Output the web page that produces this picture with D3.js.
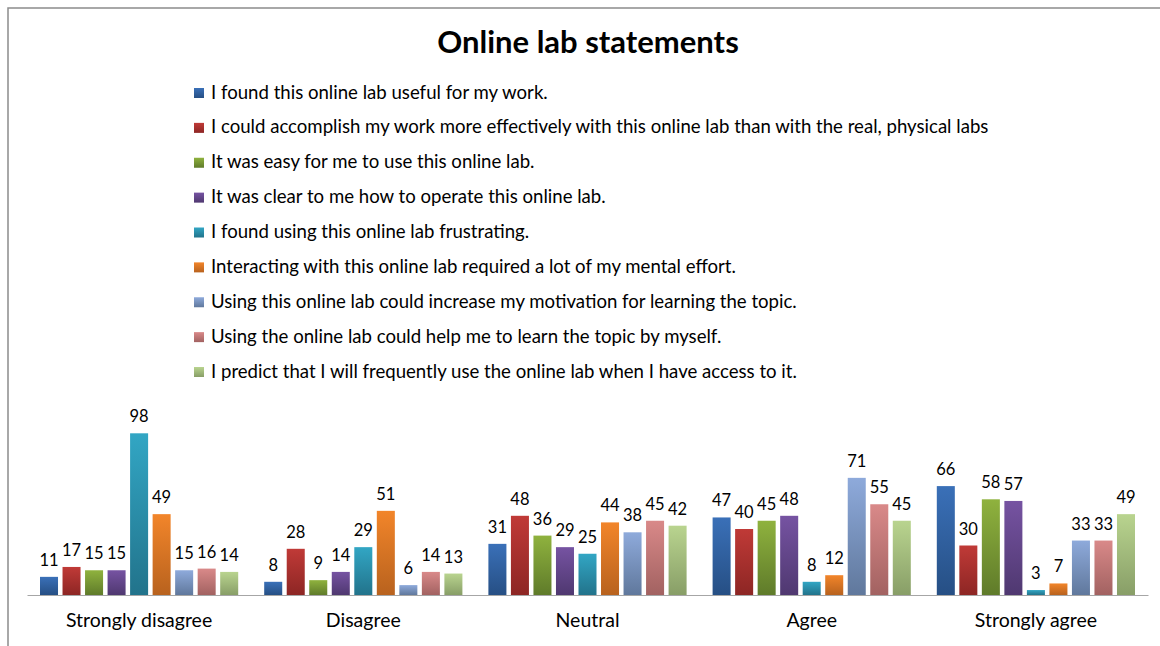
<!DOCTYPE html>
<html>
<head>
<meta charset="utf-8">
<script src="https://cdn.jsdelivr.net/npm/d3@7"></script>
<style>
  body { margin: 0; background: #fff; }
  svg { display: block; font-family: Lato, Calibri, sans-serif; }
</style>
</head>
<body>
<div id="chart"></div>
<script>
const categories = ['Strongly disagree', 'Disagree', 'Neutral', 'Agree', 'Strongly agree'];

const seriesNames = [
  'I found this online lab useful for my work.',
  'I could accomplish my work more effectively with this online lab than with the real, physical labs',
  'It was easy for me to use this online lab.',
  'It was clear to me how to operate this online lab.',
  'I found using this online lab frustrating.',
  'Interacting with this online lab required a lot of my mental effort.',
  'Using this online lab could increase my motivation for learning the topic.',
  'Using the online lab could help me to learn the topic by myself.',
  'I predict that I will frequently use the online lab when I have access to it.'
];

// one array per statement, in category order
const useful      = [11, 8, 31, 47, 66];
const effective   = [17, 28, 48, 40, 30];
const easy        = [15, 9, 36, 45, 58];
const clear       = [15, 14, 29, 48, 57];
const frustrating = [98, 29, 25, 8, 3];
const effort      = [49, 51, 44, 12, 7];
const motivation  = [15, 6, 38, 71, 33];
const byMyself    = [16, 14, 45, 55, 33];
const predictUse  = [14, 13, 42, 45, 49];

const seriesValues = [useful, effective, easy, clear, frustrating, effort, motivation, byMyself, predictUse];

// gradient top / bottom per series
const colorsTop    = ['#3a70b8', '#c03a37', '#8fb23e', '#7653a2', '#32a6c4', '#f2852a', '#8eaadb', '#d98989', '#b9d48f'];
const colorsBottom = ['#264f84', '#8d2624', '#5f7b2a', '#4f3870', '#22738b', '#b8621e', '#60789c', '#a26261', '#889e67'];

const width = 1160, height = 646;
const margin = {left: 27, right: 12, top: 397, bottom: 51};

const svg = d3.select('#chart').append('svg')
  .attr('width', width)
  .attr('height', height);

const defs = svg.append('defs');
colorsTop.forEach((c, i) => {
  let g = defs.append('linearGradient')
    .attr('id', 'grad' + i)
    .attr('x1', 0).attr('y1', 0).attr('x2', 0).attr('y2', 1);
  g.append('stop').attr('offset', '0%').attr('stop-color', c);
  g.append('stop').attr('offset', '100%').attr('stop-color', colorsBottom[i]);
});

// frame (right and bottom edges fall outside the picture)
svg.append('rect')
  .attr('x', 8).attr('y', 8)
  .attr('width', 1200).attr('height', 700)
  .attr('fill', 'none')
  .attr('stroke', '#8c8c8c')
  .attr('stroke-width', 1.5);

svg.append('text')
  .attr('x', 588).attr('y', 53)
  .attr('text-anchor', 'middle')
  .attr('font-size', 31)
  .attr('font-weight', 'bold')
  .attr('fill', '#000')
  .text('Online lab statements');

// legend
const legendY = d3.scalePoint()
  .domain(d3.range(seriesNames.length))
  .range([92, 371]);

let legend = svg.append('g')
  .selectAll('g')
  .data(seriesNames)
  .enter()
    .append('g')
    .attr('transform', (d, i) => `translate(194, ${legendY(i)})`);

legend.append('rect')
  .attr('x', 0).attr('y', -4)
  .attr('width', 10).attr('height', 10)
  .attr('fill', (d, i) => `url(#grad${i})`);

legend.append('text')
  .attr('x', 17).attr('y', 0)
  .attr('dy', '0.35em')
  .attr('font-size', 18.6)
  .attr('fill', '#000')
  .text(d => d);

// scales
const x0 = d3.scaleBand()
  .domain(categories)
  .range([margin.left, width - margin.right]);

const x1 = d3.scaleBand()
  .domain(d3.range(seriesNames.length))
  .range([13, x0.bandwidth() - 13])
  .paddingInner(0.2);

const y = d3.scaleLinear()
  .domain([0, 120])
  .range([height - margin.bottom, margin.top]);

const groups = svg.append('g')
  .selectAll('g')
  .data(categories)
  .enter()
    .append('g')
    .attr('transform', d => `translate(${x0(d)}, 0)`);

const cells = groups.selectAll('g')
  .data((d, ci) => seriesValues.map((vals, si) => ({si: si, v: vals[ci]})))
  .enter()
    .append('g');

cells.append('rect')
  .attr('x', d => x1(d.si))
  .attr('y', d => y(d.v))
  .attr('width', x1.bandwidth())
  .attr('height', d => y(0) - y(d.v))
  .attr('fill', d => `url(#grad${d.si})`);

cells.append('text')
  .attr('x', d => x1(d.si) + x1.bandwidth() / 2)
  .attr('y', d => y(d.v) - 11)
  .attr('text-anchor', 'middle')
  .attr('font-size', 16.5)
  .attr('fill', '#000')
  .text(d => d.v);

// category axis
let xAxis = d3.axisBottom(x0).tickSize(0).tickPadding(18);

let axisG = svg.append('g')
  .attr('transform', `translate(0, ${y(0)})`)
  .call(xAxis);

axisG.select('.domain').attr('stroke', '#a6a6a6');
axisG.selectAll('text')
  .attr('font-size', 19.5)
  .attr('font-family', 'Lato, Calibri, sans-serif')
  .attr('fill', '#000');
</script>
</body>
</html>
